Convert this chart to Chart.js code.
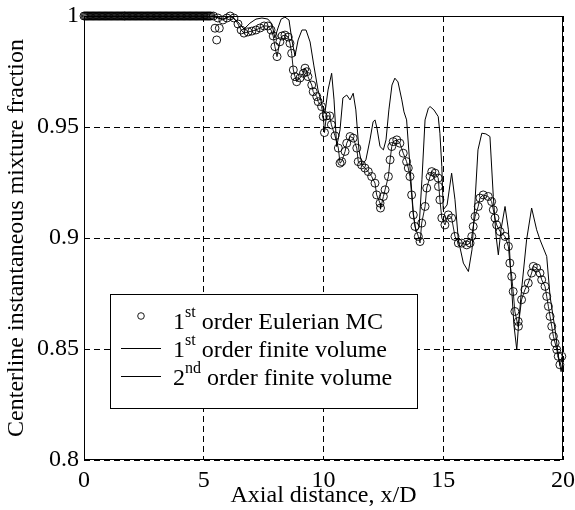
<!DOCTYPE html>
<html><head><meta charset="utf-8">
<script src="https://cdn.jsdelivr.net/npm/chart.js@4.4.1/dist/chart.umd.min.js"></script>
<style>html,body{margin:0;padding:0;background:#fff;}</style>
</head><body>
<canvas id="c" width="575" height="510"></canvas>
<script>
// ---- data ----
const mcX = [0.00,0.05,0.10,0.15,0.20,0.25,0.30,0.35,0.40,0.45,0.50,0.55,0.60,0.65,0.70,0.75,0.80,0.85,0.90,0.95,1.00,1.05,1.10,1.15,1.20,1.25,1.30,1.35,1.40,1.45,1.50,1.55,1.60,1.65,1.70,1.75,1.80,1.85,1.90,1.95,
 2.00,2.05,2.10,2.15,2.20,2.25,2.30,2.35,2.40,2.45,2.50,2.55,2.60,2.65,2.70,2.75,2.80,2.85,2.90,2.95,3.00,3.05,3.10,3.15,3.20,3.25,3.30,3.35,3.40,3.45,3.50,3.55,3.60,3.65,3.70,3.75,3.80,3.85,3.90,3.95,
 4.00,4.05,4.10,4.15,4.20,4.25,4.30,4.35,4.40,4.45,4.50,4.55,4.60,4.65,4.70,4.75,4.80,4.85,4.90,4.95,5.00,5.05,5.10,5.15,5.20,5.25,5.30,
 5.40,5.47,5.54,5.59,5.65,5.80,5.97,6.10,6.26,6.43,6.56,6.68,6.85,7.01,7.18,7.35,7.52,7.68,7.81,7.90,7.97,8.06,8.18,8.27,8.39,8.53,8.60,8.67,8.74,8.81,8.88,9.02,9.16,9.23,9.30,9.35,9.51,9.57,9.72,9.78,9.92,9.99,
 10.04,10.12,10.26,10.33,10.48,10.62,10.69,10.76,10.90,10.97,11.11,11.24,11.39,11.45,11.59,11.73,11.87,12.01,12.15,12.22,12.36,12.38,12.50,12.57,12.71,12.78,12.85,12.91,13.06,13.19,13.33,13.47,13.54,13.61,13.68,13.75,13.82,13.96,
 14.03,14.10,14.24,14.31,14.45,14.52,14.66,14.79,14.80,14.86,14.94,15.07,15.21,15.35,15.49,15.63,15.77,15.98,16.12,16.19,16.25,16.33,16.46,16.53,16.67,16.88,17.02,17.09,17.16,17.23,17.37,17.58,17.72,17.78,17.86,17.92,17.99,
 18.13,18.14,18.27,18.41,18.55,18.69,18.76,18.90,19.04,19.11,19.25,19.32,19.39,19.46,19.53,19.60,19.67,19.74,19.80,19.87,19.95];
const mcY = [1,1,1,1,1,1,1,1,1,1,1,1,1,1,1,1,1,1,1,1,1,1,1,1,1,1,1,1,1,1,1,1,1,1,1,1,1,1,1,1,
 1,1,1,1,1,1,1,1,1,1,1,1,1,1,1,1,1,1,1,1,1,1,1,1,1,1,1,1,1,1,1,1,1,1,1,1,1,1,1,1,
 1,1,1,1,1,1,1,1,1,1,1,1,1,1,1,1,1,1,1,1,1,1,1,1,1,1,1,
 1.0,0.9945,0.9892,0.9991,0.9945,0.9982,0.9991,1.0,0.9991,0.9964,0.9937,0.9923,0.9928,0.9932,0.9937,0.9946,0.9955,0.9955,0.9937,0.9910,0.9862,0.9817,0.9884,0.9910,0.9914,0.9905,0.9877,0.9832,0.9757,0.9727,0.9704,0.9721,0.9742,0.9765,0.9749,0.9727,0.9689,0.9659,0.9637,0.9614,0.9592,0.9547,
 0.9475,0.9550,0.9550,0.9510,0.9460,0.9405,0.9337,0.9344,0.9390,0.9427,0.9457,0.9450,0.9405,0.9344,0.9329,0.9315,0.9299,0.9277,0.9247,0.9194,0.9157,0.9135,0.9187,0.9217,0.9277,0.9352,0.9412,0.9434,0.9442,0.9427,0.9382,0.9344,0.9315,0.9277,0.9194,0.9104,0.9052,0.9007,
 0.8984,0.9067,0.9142,0.9225,0.9277,0.9299,0.9292,0.9270,0.9232,0.9172,0.9090,0.9059,0.9104,0.9090,0.9007,0.8977,0.8977,0.8969,0.8977,0.9007,0.9052,0.9097,0.9142,0.9180,0.9194,0.9187,0.9164,0.9127,0.9090,0.9059,0.9029,0.9007,0.8962,0.8887,0.8827,0.8759,0.8669,
 0.8624,0.8602,0.8722,0.8767,0.8797,0.8842,0.8872,0.8865,0.8842,0.8812,0.8782,0.8737,0.8692,0.8647,0.8602,0.8557,0.8527,0.8497,0.8467,0.8429,0.8467];

const fv1X = [0,5.3,5.40,5.59,5.80,5.97,6.10,6.26,6.43,6.56,6.68,6.85,7.01,7.18,7.35,7.52,7.68,7.81,7.90,7.97,8.06,8.18,8.27,8.39,8.53,8.60,8.67,8.74,8.81,8.88,9.02,9.16,9.23,9.30,9.35,9.51,9.57,9.72,9.78,9.92,9.99,
 10.04,10.12,10.26,10.33,10.48,10.62,10.69,10.76,10.90,10.97,11.11,11.24,11.39,11.45,11.59,11.73,11.87,12.01,12.15,12.22,12.36,12.38,12.50,12.57,12.71,12.78,12.85,12.91,13.06,13.19,13.33,13.47,13.54,13.61,13.68,13.75,13.82,13.96,
 14.03,14.10,14.24,14.31,14.45,14.52,14.66,14.79,14.86,14.94,15.07,15.21,15.35,15.49,15.63,15.77,15.98,16.12,16.19,16.25,16.33,16.46,16.53,16.67,16.88,17.02,17.09,17.16,17.23,17.37,17.58,17.72,17.78,17.86,17.92,17.99,
 18.13,18.27,18.41,18.55,18.69,18.76,18.90,19.04,19.11,19.25,19.32,19.39,19.46,19.53,19.60,19.67,19.74,19.80,19.87,19.95,20.0];
const fv1Y = [1,1,1.0,0.9991,0.9982,0.9991,1.0,0.9991,0.9964,0.9937,0.9923,0.9928,0.9932,0.9937,0.9946,0.9955,0.9955,0.9937,0.9910,0.9862,0.9817,0.9884,0.9910,0.9914,0.9905,0.9877,0.9832,0.9757,0.9727,0.9704,0.9721,0.9742,0.9765,0.9749,0.9727,0.9689,0.9659,0.9637,0.9614,0.9592,0.9547,
 0.9475,0.9550,0.9550,0.9510,0.9460,0.9405,0.9337,0.9344,0.9390,0.9427,0.9457,0.9450,0.9405,0.9344,0.9329,0.9315,0.9299,0.9277,0.9247,0.9194,0.9157,0.9130,0.9187,0.9217,0.9277,0.9352,0.9412,0.9434,0.9442,0.9427,0.9382,0.9344,0.9315,0.9277,0.9194,0.9104,0.9052,0.9007,
 0.8978,0.9067,0.9142,0.9225,0.9277,0.9299,0.9292,0.9270,0.9172,0.9090,0.9059,0.9104,0.9090,0.9007,0.8977,0.8977,0.8969,0.8977,0.9007,0.9052,0.9097,0.9142,0.9180,0.9194,0.9187,0.9164,0.9127,0.9090,0.9059,0.9029,0.9007,0.8962,0.8887,0.8827,0.8759,0.8669,
 0.8600,0.8722,0.8767,0.8797,0.8842,0.8872,0.8865,0.8842,0.8812,0.8782,0.8737,0.8692,0.8647,0.8602,0.8557,0.8527,0.8497,0.8467,0.8425,0.8455,0.8470];

const fv2X = [0,5.34,5.80,6.10,6.43,6.68,6.93,7.18,7.43,7.68,7.85,7.97,8.10,8.23,8.39,8.56,8.68,8.81,8.94,9.10,9.27,9.44,9.60,9.77,9.94,
 10.06,10.19,10.34,10.44,10.55,10.69,10.81,10.97,11.11,11.24,11.35,11.48,11.61,11.77,11.94,12.07,12.15,12.23,12.36,12.50,12.61,12.73,12.86,12.98,13.11,13.27,13.36,13.47,13.61,13.75,13.86,13.99,
 14.11,14.24,14.38,14.45,14.61,14.79,14.86,14.94,15.00,15.16,15.35,15.49,15.63,15.84,16.05,16.20,16.33,16.45,16.61,16.78,16.95,17.09,17.20,17.30,17.41,17.58,17.72,17.86,17.95,
 18.07,18.16,18.27,18.48,18.69,18.90,19.04,19.32,19.46,19.67,19.80,19.92,20.0];
const fv2Y = [1,1,0.9986,1.0,0.9973,0.9941,0.9968,0.9986,0.9991,0.9986,0.9964,0.9901,0.9946,0.9986,0.9995,0.9982,0.9892,0.9820,0.9892,0.9937,0.9937,0.9883,0.9775,0.9667,0.9599,
 0.9563,0.9667,0.9742,0.9622,0.9412,0.9487,0.9631,0.9644,0.9622,0.9652,0.9577,0.9397,0.9329,0.9352,0.9442,0.9523,0.9532,0.9496,0.9412,0.9397,0.9442,0.9577,0.9689,0.9720,0.9703,0.9622,0.9568,0.9532,0.9322,0.9112,0.9028,0.9046,
 0.9262,0.9532,0.9585,0.9592,0.9577,0.9547,0.9472,0.9322,0.9127,0.9149,0.9292,0.9172,0.8992,0.8887,0.8849,0.8947,0.9172,0.9397,0.9472,0.9469,0.9457,0.9187,0.9014,0.8924,0.9037,0.9142,0.9037,0.8767,0.8609,
 0.8497,0.8632,0.8767,0.8992,0.9135,0.9037,0.8992,0.8917,0.8737,0.8587,0.8474,0.8398,0.8450];

const xTicks = [0,5,10,15,20];
const yTicks = [0.8,0.85,0.9,0.95,1];
const xTitle = 'Axial distance, x/D';
const yTitle = 'Centerline instantaneous mixture fraction';
const legendItems = [
  {num:'1', sup:'st', rest:' order Eulerian MC', kind:'marker'},
  {num:'1', sup:'st', rest:' order finite volume', kind:'line'},
  {num:'2', sup:'nd', rest:' order finite volume', kind:'line'}
];

// ---- chart ----
const FONT = '"Liberation Serif","Times New Roman",serif';
const toPts = (xs, ys) => xs.map((x, i) => ({x: x, y: ys[i]}));

const framePlugin = {
  id: 'frameAndLegend',
  afterDraw(chart) {
    const ctx = chart.ctx, a = chart.chartArea;
    ctx.save();
    ctx.setLineDash([]);
    ctx.strokeStyle = '#000';
    ctx.lineWidth = 1;
    ctx.strokeRect(Math.round(a.left) + 0.5, Math.round(a.top) + 0.5,
                   Math.round(a.right - a.left) - 1, Math.round(a.bottom - a.top) - 1);
    // legend box
    const bx = 110, by = 294, bw = 307, bh = 114;
    ctx.fillStyle = '#fff';
    ctx.fillRect(bx, by, bw, bh);
    ctx.strokeRect(bx + 0.5, by + 0.5, bw, bh);
    const baselines = [329, 357, 385];
    ctx.fillStyle = '#000';
    ctx.textBaseline = 'alphabetic';
    ctx.textAlign = 'left';
    legendItems.forEach((it, i) => {
      const b = baselines[i];
      if (it.kind === 'marker') {
        ctx.beginPath();
        ctx.arc(141, b - 13, 3.3, 0, Math.PI * 2);
        ctx.lineWidth = 0.9;
        ctx.stroke();
      } else {
        ctx.beginPath();
        ctx.moveTo(121, b - 8.5);
        ctx.lineTo(161, b - 8.5);
        ctx.lineWidth = 1;
        ctx.stroke();
      }
      let x = 173;
      ctx.font = '24px ' + FONT;
      ctx.fillText(it.num, x, b);
      x += ctx.measureText(it.num).width;
      ctx.font = '16px ' + FONT;
      ctx.fillText(it.sup, x, b - 12);
      x += ctx.measureText(it.sup).width;
      ctx.font = '24px ' + FONT;
      ctx.fillText(it.rest, x, b);
    });
    ctx.restore();
  }
};

new Chart(document.getElementById('c'), {
  type: 'line',
  data: {
    datasets: [
      {label: 'MC', data: toPts(mcX, mcY), showLine: false, pointStyle: 'circle',
       pointRadius: 4, pointBorderWidth: 0.9, pointBorderColor: '#000',
       pointBackgroundColor: 'rgba(0,0,0,0)', clip: 8},
      {label: 'fv1', data: toPts(fv1X, fv1Y), borderColor: '#000', borderWidth: 0.9,
       pointRadius: 0, tension: 0, fill: false},
      {label: 'fv2', data: toPts(fv2X, fv2Y), borderColor: '#000', borderWidth: 1,
       pointRadius: 0, tension: 0, fill: false}
    ]
  },
  options: {
    responsive: false,
    animation: false,
    devicePixelRatio: 1,
    layout: {padding: {left: 0, right: 12, top: 16, bottom: 0}},
    plugins: {legend: {display: false}, tooltip: {enabled: false}},
    scales: {
      x: {
        type: 'linear', min: 0, max: 20,
        afterBuildTicks: s => { s.ticks = xTicks.map(v => ({value: v})); },
        afterFit: s => { s.height = 50; s.paddingLeft = 0; s.paddingRight = 0; },
        ticks: {color: '#000', font: {family: FONT, size: 24}, padding: 6, maxRotation: 0, autoSkip: false},
        grid: {color: '#000', lineWidth: 1, drawTicks: false},
        border: {display: false, dash: [6, 4]},
        title: {display: true, text: xTitle, color: '#000', font: {family: FONT, size: 24}, padding: {top: 0, bottom: 0}}
      },
      y: {
        type: 'linear', min: 0.8, max: 1,
        afterBuildTicks: s => { s.ticks = yTicks.map(v => ({value: v})); },
        afterFit: s => { s.width = 84; s.paddingTop = 0; s.paddingBottom = 0; },
        ticks: {color: '#000', font: {family: FONT, size: 24}, padding: 5,
                callback: v => String(parseFloat(Number(v).toFixed(2)))},
        grid: {color: '#000', lineWidth: 1, drawTicks: false},
        border: {display: false, dash: [6, 4]},
        title: {display: true, text: yTitle, color: '#000', font: {family: FONT, size: 24}, padding: {top: 2, bottom: 0}}
      }
    }
  },
  plugins: [framePlugin]
});
</script>
</body></html>
